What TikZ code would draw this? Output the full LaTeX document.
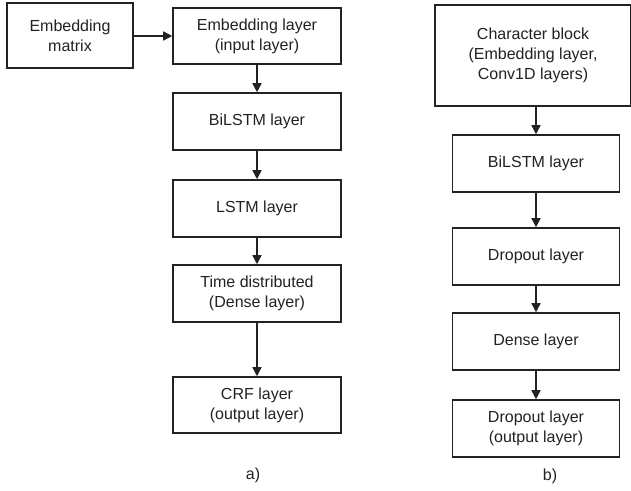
\documentclass[tikz,border=0pt]{standalone}
\usepackage{fontspec}
\setmainfont{Liberation Sans}
\usetikzlibrary{arrows.meta}
\definecolor{ink}{HTML}{222222}
\begin{document}
\begin{tikzpicture}[x=1pt,y=-1pt,
  box/.style={draw=ink,line width=1.6pt,inner sep=0pt,align=center,text=ink,
    font=\fontsize{16}{20}\selectfont},
  conn/.style={draw=ink,line width=1.6pt,-{Triangle[length=9pt,width=9pt]}},
  lbl/.style={text=ink,font=\fontsize{16}{20}\selectfont}]
\useasboundingbox[fill=white] (0,0) rectangle (631,490);
% left column
\node[box,minimum width=126pt,minimum height=65pt] (mat) at (70,35.5) {Embedding\\matrix};
\node[box,minimum width=168pt,minimum height=56pt] (emb) at (257,36) {Embedding layer\\(input layer)};
\node[box,minimum width=168pt,minimum height=57pt] (bil) at (257,121.5) {BiLSTM layer};
\node[box,minimum width=168pt,minimum height=57pt] (lstm) at (257,208.5) {LSTM layer};
\node[box,minimum width=168pt,minimum height=57pt] (td) at (257,293.5) {Time distributed\\(Dense layer)};
\node[box,minimum width=168pt,minimum height=56pt] (crf) at (257,405) {CRF layer\\(output layer)};
\node[lbl] (la) at (253,475) {a)};
\draw[conn] (mat.east |- emb.west) -- (emb.west);
\draw[conn] (emb) -- (bil);
\draw[conn] (bil) -- (lstm);
\draw[conn] (lstm) -- (td);
\draw[conn] (td) -- (crf);
% right column
\node[box,minimum width=196pt,minimum height=101pt] (cb) at (533,55.5) {Character block\\(Embedding layer,\\Conv1D layers)};
\node[box,minimum width=167pt,minimum height=57pt] (rb) at (536,163.5) {BiLSTM layer};
\node[box,minimum width=167pt,minimum height=57pt] (rd) at (536,256.5) {Dropout layer};
\node[box,minimum width=167pt,minimum height=57pt] (rde) at (536,341.5) {Dense layer};
\node[box,minimum width=167pt,minimum height=57pt] (ro) at (536,428.5) {Dropout layer\\(output layer)};
\node[lbl] (lb) at (550,476) {b)};
\draw[conn] (cb.south -| rb.north) -- (rb.north);
\draw[conn] (rb) -- (rd);
\draw[conn] (rd) -- (rde);
\draw[conn] (rde) -- (ro);
\end{tikzpicture}
\end{document}
